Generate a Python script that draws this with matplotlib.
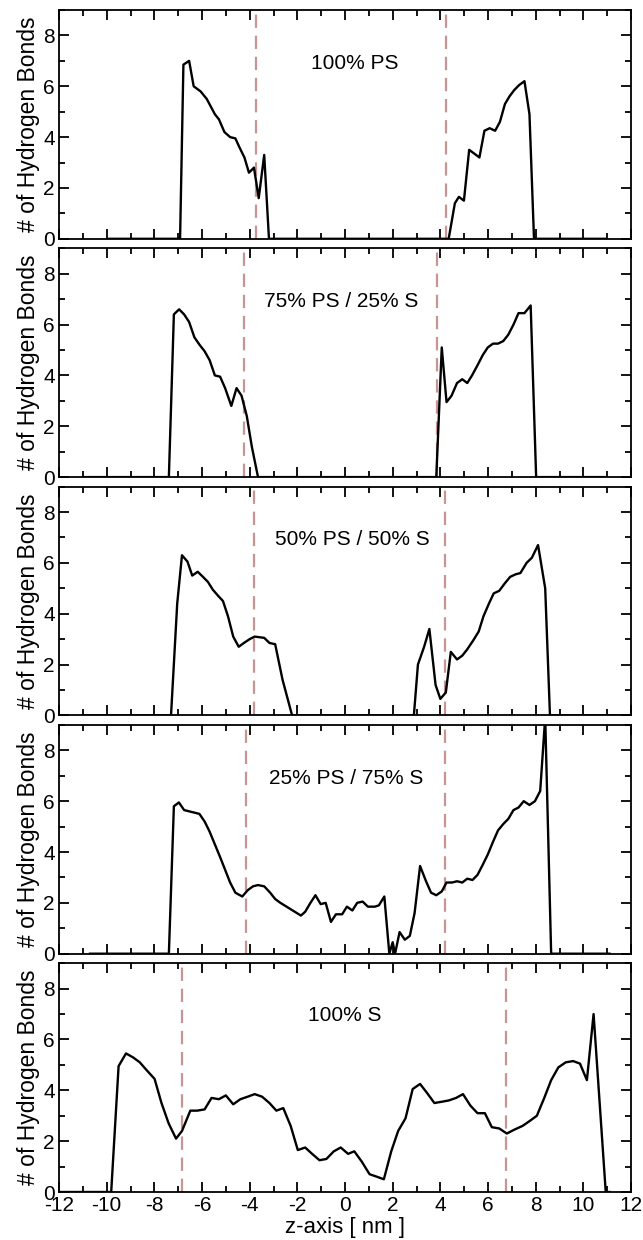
import matplotlib
matplotlib.use("Agg")
import matplotlib.pyplot as plt
from matplotlib.ticker import MultipleLocator

plt.rcParams['font.family'] = ['Liberation Sans', 'DejaVu Sans']
plt.rcParams['axes.unicode_minus'] = False

# ---- data ----
labels = ["100% PS", "75% PS / 25% S", "50% PS / 50% S", "25% PS / 75% S", "100% S"]

z_ps100 = [-9.9, -6.92, -6.78, -6.54, -6.35, -6.06, -5.8, -5.63, -5.46, -5.29, -5.06, -4.82,
           -4.6, -4.43, -4.22, -4.03, -3.82, -3.62, -3.39, -3.19, 4.35, 4.61, 4.78, 4.99, 5.21,
           5.64, 5.85, 6.07, 6.3, 6.5, 6.71, 6.9, 7.1, 7.31, 7.53, 7.74, 7.93, 10.9]
hb_ps100 = [0, 0, 6.85, 7.0, 6.0, 5.8, 5.5, 5.2, 4.9, 4.7, 4.2, 4.0, 3.95, 3.6, 3.2, 2.6, 2.8,
            1.6, 3.3, 0, 0, 1.4, 1.65, 1.5, 3.5, 3.2, 4.25, 4.35, 4.25, 4.6, 5.3, 5.6, 5.85,
            6.05, 6.2, 4.9, 0, 0]

z_ps75 = [-10.97, -7.39, -7.18, -6.96, -6.75, -6.54, -6.32, -6.1, -5.89, -5.68, -5.46, -5.24,
          -5.03, -4.77, -4.55, -4.34, -4.12, -3.91, -3.65, 3.83, 4.06, 4.26, 4.47, 4.7, 4.92,
          5.13, 5.33, 5.56, 5.78, 5.99, 6.21, 6.42, 6.64, 6.85, 7.07, 7.28, 7.53, 7.79, 8.02, 10.9]
hb_ps75 = [0, 0, 6.4, 6.6, 6.4, 6.1, 5.5, 5.2, 4.95, 4.6, 4.0, 3.95, 3.5, 2.8, 3.5, 3.2, 2.4,
           1.2, 0, 0, 5.1, 2.95, 3.2, 3.7, 3.85, 3.7, 4.0, 4.4, 4.8, 5.1, 5.25, 5.25, 5.35, 5.6,
           6.0, 6.45, 6.45, 6.75, 0, 0]

z_ps50 = [-11.0, -7.3, -7.04, -6.84, -6.61, -6.41, -6.18, -5.96, -5.75, -5.55, -5.32, -5.12,
          -4.91, -4.69, -4.46, -4.24, -4.0, -3.79, -3.39, -3.17, -2.93, -2.62, -2.22, 2.89, 3.06,
          3.32, 3.54, 3.8, 4.0, 4.23, 4.44, 4.7, 4.92, 5.13, 5.38, 5.61, 5.81, 6.04, 6.24, 6.47,
          6.71, 6.93, 7.16, 7.36, 7.62, 7.84, 8.1, 8.4, 8.6, 11.8]
hb_ps50 = [0, 0, 4.4, 6.3, 6.05, 5.5, 5.65, 5.45, 5.25, 4.95, 4.7, 4.5, 3.9, 3.1, 2.7, 2.85,
           3.0, 3.1, 3.05, 2.85, 2.8, 1.4, 0, 0, 2.0, 2.7, 3.4, 1.2, 0.65, 0.9, 2.5, 2.2, 2.35,
           2.6, 2.95, 3.3, 3.9, 4.4, 4.8, 4.9, 5.2, 5.45, 5.55, 5.6, 6.0, 6.2, 6.7, 5.0, 0, 0]

z_ps25 = [-10.7, -7.39, -7.18, -6.97, -6.75, -6.54, -6.11, -5.89, -5.68, -5.46, -5.24, -5.03,
          -4.82, -4.6, -4.31, -4.08, -3.86, -3.65, -3.39, -3.14, -2.93, -2.71, -2.28, -1.85,
          -1.67, -1.45, -1.24, -1.02, -0.81, -0.59, -0.38, -0.12, 0.08, 0.31, 0.51, 0.74, 0.96,
          1.25, 1.42, 1.65, 1.86, 2.0, 2.1, 2.29, 2.51, 2.72, 2.92, 3.15, 3.4, 3.61, 3.83, 4.06,
          4.26, 4.49, 4.7, 4.92, 5.13, 5.35, 5.56, 5.78, 5.99, 6.21, 6.42, 6.64, 6.85, 7.07,
          7.28, 7.5, 7.74, 7.97, 8.19, 8.4, 8.65, 11.1]
hb_ps25 = [0, 0, 5.8, 5.95, 5.65, 5.6, 5.5, 5.2, 4.8, 4.3, 3.8, 3.3, 2.8, 2.4, 2.25, 2.5, 2.65,
           2.7, 2.65, 2.4, 2.15, 2.0, 1.75, 1.5, 1.65, 2.0, 2.3, 1.95, 2.0, 1.25, 1.55, 1.55,
           1.85, 1.7, 2.0, 2.05, 1.85, 1.85, 1.9, 2.25, 0, 0.45, 0, 0.85, 0.55, 0.7, 1.6, 3.45,
           2.85, 2.4, 2.3, 2.45, 2.8, 2.8, 2.85, 2.8, 2.95, 2.9, 3.1, 3.5, 3.9, 4.4, 4.85, 5.1,
           5.3, 5.65, 5.75, 6.0, 5.85, 6.0, 6.4, 9.3, 0, 0]

z_s100 = [-12.0, -9.81, -9.5, -9.19, -8.9, -8.61, -8.33, -7.99, -7.7, -7.4, -7.09, -6.84,
          -6.49, -6.2, -5.89, -5.6, -5.29, -5.0, -4.69, -4.39, -4.08, -3.79, -3.48, -3.17,
          -2.88, -2.59, -2.28, -1.98, -1.67, -1.38, -1.07, -0.78, -0.47, -0.18, 0.13, 0.39, 0.7,
          1.03, 1.34, 1.63, 1.94, 2.23, 2.54, 2.84, 3.15, 3.44, 3.75, 4.06, 4.35, 4.66, 4.95,
          5.26, 5.56, 5.87, 6.16, 6.47, 6.79, 7.1, 7.45, 7.76, 8.05, 8.36, 8.65, 8.95, 9.26,
          9.57, 9.86, 10.15, 10.43, 10.94, 11.1]
hb_s100 = [0, 0, 4.95, 5.45, 5.3, 5.1, 4.8, 4.45, 3.5, 2.7, 2.1, 2.4, 3.2, 3.2, 3.25, 3.7,
           3.65, 3.8, 3.45, 3.65, 3.75, 3.85, 3.75, 3.5, 3.2, 3.3, 2.6, 1.65, 1.75, 1.5, 1.25,
           1.3, 1.6, 1.75, 1.5, 1.6, 1.2, 0.7, 0.6, 0.5, 1.6, 2.4, 2.9, 4.05, 4.25, 3.9, 3.5,
           3.55, 3.6, 3.7, 3.85, 3.4, 3.1, 3.1, 2.55, 2.5, 2.3, 2.45, 2.6, 2.8, 3.0, 3.7, 4.4,
           4.9, 5.1, 5.15, 5.05, 4.4, 7.0, 0, 0]

# interface positions (dashed lines)
interfaces = [[-3.75, 4.25], [-4.23, 3.86], [-3.83, 4.21], [-4.17, 4.21], [-6.84, 6.76]]
# label positions inside each panel
label_x = [0.4, -0.18, 0.33, 0.04, 0.0]
label_y = [6.9, 6.9, 6.9, 6.9, 6.95]

profiles = [(z_ps100, hb_ps100), (z_ps75, hb_ps75), (z_ps50, hb_ps50),
            (z_ps25, hb_ps25), (z_s100, hb_s100)]

fig, axes = plt.subplots(5, 1, figsize=(6.43, 12.4), dpi=100, sharex=True)
fig.subplots_adjust(left=59 / 643, right=631 / 643, top=1 - 10 / 1240,
                    bottom=1 - 1192 / 1240, hspace=9.5 / 228.8)

for ax, (z, hb), walls, lab, lx, ly in zip(axes, profiles, interfaces, labels,
                                          label_x, label_y):
    for w in walls:
        ax.axvline(w, color='#c89494', lw=1.6, dashes=(6, 3.5), zorder=1)
    ax.plot(z, hb, color='black', lw=1.7, zorder=2)
    ax.text(lx, ly, lab, ha='center', va='center', fontsize=15)

    ax.set_xlim(-12, 12)
    ax.set_ylim(0, 9)
    ax.xaxis.set_major_locator(MultipleLocator(2))
    ax.xaxis.set_minor_locator(MultipleLocator(1))
    ax.yaxis.set_major_locator(MultipleLocator(2))
    ax.yaxis.set_minor_locator(MultipleLocator(1))
    ax.tick_params(which='both', direction='in', top=True, right=True, width=1.3,
                   labelsize=15, pad=3)
    ax.tick_params(which='major', length=7.5)
    ax.tick_params(which='minor', length=4)
    for sp in ax.spines.values():
        sp.set_linewidth(1.3)
    ax.set_ylabel('# of Hydrogen Bonds', fontsize=16.5, labelpad=2)

axes[-1].set_xlabel('z-axis [ nm ]', fontsize=16, labelpad=1)

fig.savefig('out.png', dpi=100)
